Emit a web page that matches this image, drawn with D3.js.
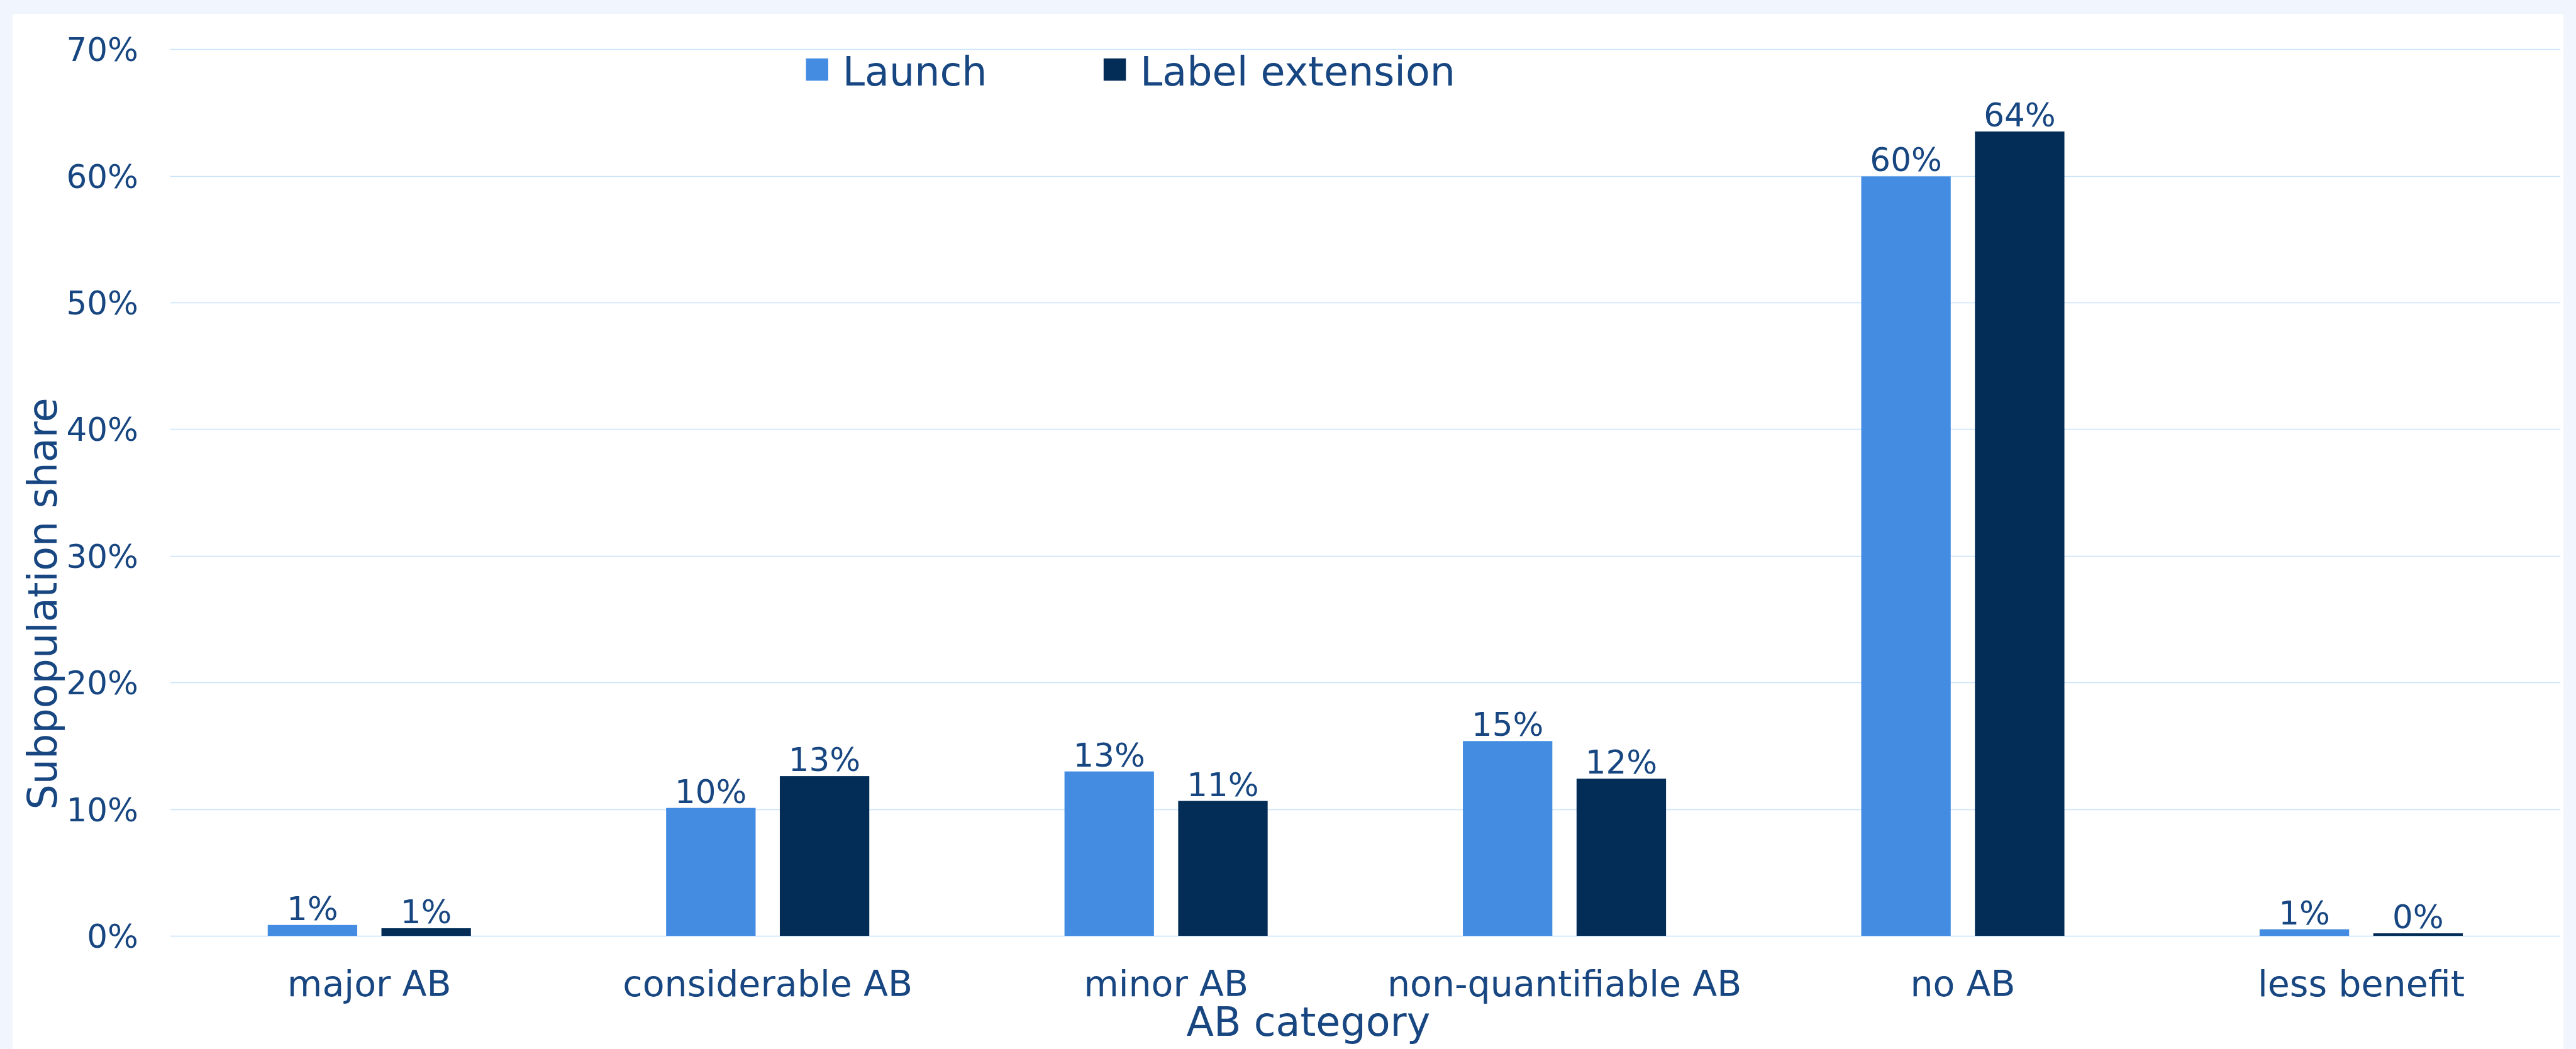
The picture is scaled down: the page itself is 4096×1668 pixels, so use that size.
<!DOCTYPE html>
<html>
<head>
<meta charset="utf-8">
<script src="https://cdn.jsdelivr.net/npm/d3@7"></script>
<style>
  html, body { margin: 0; padding: 0; background: #f1f6fe; }
  svg { display: block; }
  text { font-family: Verdana, "DejaVu Sans", sans-serif; fill: #174681; }
</style>
</head>
<body>
<div id="chart"></div>
<script>
// data
const categories = ['major AB', 'considerable AB', 'minor AB', 'non-quantifiable AB', 'no AB', 'less benefit'];
const seriesNames = ['Launch', 'Label extension'];
const launch = [0.86, 10.1, 12.98, 15.38, 59.96, 0.52];
const labelExtension = [0.6, 12.61, 10.65, 12.41, 63.5, 0.2];
const yTicks = [0, 10, 20, 30, 40, 50, 60, 70];

const colors = { 'Launch': '#448ce2', 'Label extension': '#032c56' };

const w = 4096;
const h = 1668;
const s = 0.6685;

const svg = d3.select('#chart')
              .append('svg')
              .attr('width', w)
              .attr('height', h);

// white panel
svg.append('rect')
   .attr('x', 20)
   .attr('y', 22)
   .attr('width', 4076 - 20)
   .attr('height', h - 22)
   .attr('fill', '#ffffff');

// scales
const x0 = d3.scaleBand()
             .domain(categories)
             .range([404.7 * s, 6090 * s])
             .paddingInner(0.49)
             .paddingOuter(0.245);

const x1 = d3.scaleBand()
             .domain(seriesNames)
             .range([0, x0.bandwidth()])
             .paddingInner(0.213);

const yScale = d3.scaleLinear()
                 .domain([0, 70])
                 .range([2226 * s, 117 * s]);

// gridlines
svg.append('g')
   .selectAll('line')
   .data(yTicks)
   .enter()
   .append('line')
   .attr('x1', 404.7 * s)
   .attr('x2', 6090 * s)
   .attr('y1', d => Math.round(yScale(d)) + 0.5)
   .attr('y2', d => Math.round(yScale(d)) + 0.5)
   .attr('stroke', '#c6e1fb')
   .attr('stroke-width', 1.6);

// y axis
const yAxis = d3.axisLeft(yScale)
                .tickValues(yTicks)
                .tickFormat(d => d + '%')
                .tickSize(0)
                .tickPadding(0);

const yG = svg.append('g')
              .attr('transform', `translate(${329 * s}, 0)`)
              .call(yAxis);
yG.select('.domain').remove();
yG.selectAll('text')
  .attr('fill', '#174681')
  .style('font-size', '51.5px')
  .style('font-family', 'Verdana, "DejaVu Sans", sans-serif')
  .attr('dy', '0.36em');

// x axis
const xAxis = d3.axisBottom(x0).tickSize(0).tickPadding(0);
const xG = svg.append('g')
              .attr('transform', `translate(0, ${2369 * s})`)
              .call(xAxis);
xG.select('.domain').remove();
xG.selectAll('text')
  .attr('fill', '#174681')
  .attr('dy', 0)
  .attr('y', 0)
  .style('font-size', '57px')
  .style('font-family', 'Verdana, "DejaVu Sans", sans-serif');

// bars
const rows = categories.map((c, i) => ({
  cat: c,
  vals: [
    { name: 'Launch', value: launch[i] },
    { name: 'Label extension', value: labelExtension[i] }
  ]
}));

const groups = svg.selectAll('g.cat')
                  .data(rows)
                  .enter()
                  .append('g')
                  .attr('class', 'cat')
                  .attr('transform', d => `translate(${x0(d.cat)}, 0)`);

groups.selectAll('rect')
      .data(d => d.vals)
      .enter()
      .append('rect')
      .attr('x', d => x1(d.name))
      .attr('y', d => yScale(d.value))
      .attr('width', x1.bandwidth())
      .attr('height', d => yScale(0) - yScale(d.value))
      .attr('fill', d => colors[d.name]);

groups.selectAll('text')
      .data(d => d.vals)
      .enter()
      .append('text')
      .attr('x', d => x1(d.name) + x1.bandwidth() / 2)
      .attr('y', d => yScale(d.value) - 8)
      .attr('text-anchor', 'middle')
      .style('font-size', '51.5px')
      .text(d => Math.round(d.value) + '%');

// axis titles
svg.append('text')
   .attr('x', 3112 * s)
   .attr('y', 2464 * s)
   .attr('text-anchor', 'middle')
   .style('font-size', '63.5px')
   .text('AB category');

svg.append('text')
   .attr('transform', `translate(${135 * s}, ${1436 * s}) rotate(-90)`)
   .attr('text-anchor', 'middle')
   .style('font-size', '63.5px')
   .text('Subpopulation share');

// legend
const legendX = [1917 * s, 2625 * s];
const legend = svg.selectAll('g.legend')
                  .data(seriesNames)
                  .enter()
                  .append('g')
                  .attr('class', 'legend')
                  .attr('transform', (d, i) => `translate(${legendX[i]}, 0)`);

legend.append('rect')
      .attr('x', 0)
      .attr('y', 139 * s)
      .attr('width', 53 * s)
      .attr('height', 53 * s)
      .attr('fill', d => colors[d]);

legend.append('text')
      .attr('x', 87 * s)
      .attr('y', 203 * s)
      .style('font-size', '63.5px')
      .text(d => d);
</script>
</body>
</html>
